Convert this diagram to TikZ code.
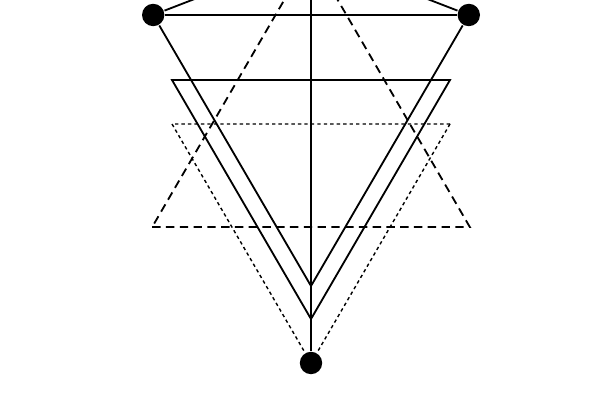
\documentclass[tikz,border=0pt]{standalone}
\begin{document}
\begin{tikzpicture}[line width=1.3pt,
dot/.style ={circle,fill=black,inner sep=0pt,minimum size=0.56cm},
bigdash/.style ={dash pattern=on 6pt off 3.8pt},
smalldash/.style ={line width=1pt,dash pattern=on 2.4pt off 2.2pt}]

\useasboundingbox (0,0) rectangle (15,10);
\clip (0,0) rectangle (15,10);

\coordinate (T) at (7.775,11.15);
\node[dot] (L) at (3.83,9.625) {};
\node[dot] (R) at (11.72,9.625) {};
\node[dot] (B) at (7.775,0.925) {};

\coordinate (V1) at (7.775,2.85);
\coordinate (V2) at (7.775,2.025);
\coordinate (S1) at (4.3,8.0);
\coordinate (S2) at (11.25,8.0);
\coordinate (D1) at (4.3,6.9);
\coordinate (D2) at (11.25,6.9);
\coordinate (A1) at (3.805,4.325);
\coordinate (A2) at (11.745,4.325);

% top
\draw (L) -- (R);
\draw (L) -- (T) -- (R);
\draw (T) -- (B);

% solid triangles
\draw (L) -- (V1) -- (R);
\draw (S1) -- (S2) -- (V2) -- cycle;

% dashed triangles
\draw[bigdash] (A1) -- (A2) -- (T) -- cycle;
\draw[smalldash] (D2) -- (D1) -- (B);
\draw[smalldash] (D2) -- (B);

\end{tikzpicture}
\end{document}
